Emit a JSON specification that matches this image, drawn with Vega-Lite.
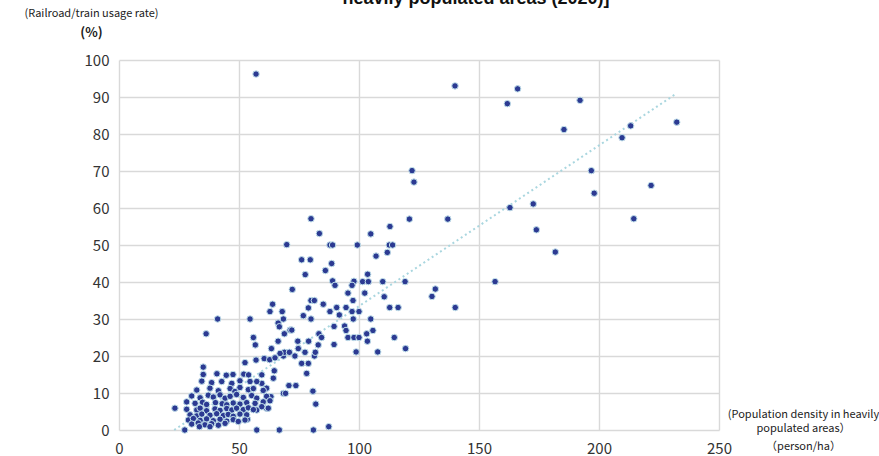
{
  "$schema": "https://vega.github.io/schema/vega-lite/v6.json",
  "width": 600,
  "height": 370,
  "autosize": {"type": "none"},
  "padding": {"left": 119, "top": 60, "right": 160, "bottom": 26},
  "background": "white",
  "config": {"view": {"stroke": null}, "font": "Noto Sans CJK JP"},
  "title": {
    "text": "heavily populated areas (2020)]",
    "anchor": "middle",
    "dx": 57,
    "dy": 5,
    "font": "Liberation Sans",
    "fontSize": 18,
    "fontWeight": "bold",
    "color": "#111111"
  },
  "datasets": {
    "trend": [{"density": 23, "usage": 0}, {"density": 232.4, "usage": 91}],
    "points": [
      {"density":57.1,"usage":96.2},{"density":140,"usage":93},{"density":166.1,"usage":92.2},{"density":161.8,"usage":88.2},{"density":192.1,"usage":89.1},{"density":185.4,"usage":81.2},{"density":232.4,"usage":83.2},{"density":213.2,"usage":82.2},{"density":209.6,"usage":79},{"density":196.8,"usage":70.1},{"density":198,"usage":64},{"density":221.7,"usage":66.1},{"density":162.9,"usage":60.1},{"density":172.6,"usage":61.1},{"density":173.9,"usage":54.1},{"density":214.5,"usage":57.1},{"density":181.8,"usage":48.1},{"density":156.7,"usage":40.1},
      {"density":122.1,"usage":70.1},{"density":122.9,"usage":67},{"density":121,"usage":57},{"density":137,"usage":57},{"density":112.9,"usage":55},{"density":104.9,"usage":53},{"density":87.9,"usage":50},{"density":89,"usage":50},{"density":99.3,"usage":50},{"density":112.6,"usage":50},{"density":114,"usage":50},{"density":107.1,"usage":47},{"density":111.8,"usage":48},{"density":88.6,"usage":45},{"density":89,"usage":40.3},{"density":90,"usage":39.1},{"density":97.9,"usage":40.2},{"density":97.1,"usage":39.1},{"density":101.5,"usage":40.1},{"density":103.9,"usage":40.1},{"density":103.6,"usage":42.1},{"density":109.9,"usage":40.1},{"density":119.2,"usage":40.1},{"density":95.4,"usage":37},{"density":102.4,"usage":37},{"density":110.5,"usage":36},{"density":131.8,"usage":38.1},{"density":130.4,"usage":36.1},{"density":97.5,"usage":35},{"density":90.7,"usage":33.1},{"density":94.6,"usage":33.1},{"density":87.9,"usage":32},{"density":91.8,"usage":31.1},{"density":97.1,"usage":32},{"density":100,"usage":32},{"density":97.6,"usage":30},{"density":112.8,"usage":33.1},{"density":116.3,"usage":33.1},{"density":140.1,"usage":33.1},{"density":104.9,"usage":30},{"density":89.6,"usage":28},{"density":94,"usage":28.1},{"density":94.6,"usage":26.9},{"density":105.8,"usage":26.9},{"density":103.2,"usage":26},{"density":95.4,"usage":25},{"density":97.9,"usage":25},{"density":100,"usage":25},{"density":103.5,"usage":24},{"density":114.7,"usage":25},{"density":89.6,"usage":23.1},{"density":119.4,"usage":22},{"density":98.8,"usage":21.1},{"density":107.8,"usage":21.1},
      {"density":80,"usage":57.1},{"density":83.5,"usage":53.1},{"density":69.9,"usage":50.1},{"density":76.1,"usage":46},{"density":79.7,"usage":46},{"density":77.6,"usage":42},{"density":86,"usage":43.1},{"density":72.2,"usage":38},{"density":80,"usage":35},{"density":81.4,"usage":35},{"density":64,"usage":34},{"density":85.1,"usage":34},{"density":78.9,"usage":33},{"density":62.9,"usage":32},{"density":68,"usage":32},{"density":76.8,"usage":30.9},{"density":68.5,"usage":30},{"density":80,"usage":30},{"density":66.3,"usage":28.9},{"density":66.8,"usage":27.9},{"density":71.3,"usage":27},{"density":72,"usage":27},{"density":68.9,"usage":26},{"density":74.5,"usage":24},{"density":79,"usage":24},{"density":83.3,"usage":26},{"density":84.4,"usage":25},{"density":83,"usage":23},{"density":56,"usage":25},{"density":56.8,"usage":23},{"density":54.6,"usage":30},{"density":63.5,"usage":22},{"density":66.3,"usage":24},{"density":68.5,"usage":20},{"density":68.9,"usage":21},{"density":71,"usage":21},{"density":73.3,"usage":20},{"density":77.5,"usage":21},{"density":81.4,"usage":20},{"density":81.8,"usage":21},{"density":60.5,"usage":19.3},{"density":62.8,"usage":19},{"density":65,"usage":19.5},{"density":74.7,"usage":22},{"density":41.1,"usage":30},{"density":36.3,"usage":26},{"density":76.1,"usage":18},{"density":78.9,"usage":18},
      {"density":57.1,"usage":18.9},{"density":52.5,"usage":18.2},{"density":35.1,"usage":17},{"density":64.7,"usage":16},{"density":64.3,"usage":14},{"density":70.8,"usage":12},{"density":73.7,"usage":12},{"density":68.5,"usage":9.9},{"density":69.4,"usage":9.9},{"density":63.3,"usage":9},{"density":59.5,"usage":12.6},{"density":61.5,"usage":11.3},{"density":78.2,"usage":15.3},{"density":67.1,"usage":20.7},{"density":53.5,"usage":2.9},{"density":61.5,"usage":5.9},{"density":57.4,"usage":5.4},{"density":80.8,"usage":10.5},{"density":82,"usage":7},
      {"density":35.1,"usage":15},{"density":40.8,"usage":15.2},{"density":44.7,"usage":14.8},{"density":47.5,"usage":15},{"density":52,"usage":15.1},{"density":54,"usage":14.9},{"density":59.5,"usage":14.9},
      {"density":34.5,"usage":13.2},{"density":38.6,"usage":12.8},{"density":42.8,"usage":13.1},{"density":47,"usage":12.6},{"density":50.4,"usage":13.3},{"density":54.6,"usage":13.1},{"density":57.4,"usage":13.1},
      {"density":32.4,"usage":10.8},{"density":37.9,"usage":11.3},{"density":41.4,"usage":10.6},{"density":46.3,"usage":11.2},{"density":48.3,"usage":10.4},{"density":50.4,"usage":11.5},{"density":53.9,"usage":10.9},{"density":56,"usage":11.2},{"density":60.1,"usage":10.7},
      {"density":30.3,"usage":9.2},{"density":33.8,"usage":8.7},{"density":37.2,"usage":9.4},{"density":39.3,"usage":8.9},{"density":42.1,"usage":9.5},{"density":44.2,"usage":8.6},{"density":46.3,"usage":9.1},{"density":49,"usage":9.6},{"density":51.8,"usage":8.8},{"density":55.3,"usage":9.3},{"density":57.4,"usage":8.6},{"density":61.5,"usage":9.1},
      {"density":28.2,"usage":7.6},{"density":31.7,"usage":7.2},{"density":34.8,"usage":7.5},{"density":36.5,"usage":6.9},{"density":40.2,"usage":7.4},{"density":43,"usage":7.1},{"density":44.9,"usage":6.8},{"density":47.6,"usage":7.3},{"density":50.4,"usage":7},{"density":53.2,"usage":7.4},{"density":56.7,"usage":7.2},{"density":60.1,"usage":7.6},{"density":62.9,"usage":7.9},
      {"density":23.3,"usage":5.9},{"density":28.2,"usage":5.6},{"density":32.4,"usage":5.4},{"density":33.8,"usage":5.9},{"density":36.5,"usage":5.2},{"density":40,"usage":5.7},{"density":42.1,"usage":5.3},{"density":44.9,"usage":5.8},{"density":47,"usage":5.4},{"density":49,"usage":5.9},{"density":51.8,"usage":5.5},{"density":53.9,"usage":6},{"density":56,"usage":5.5},{"density":59.5,"usage":6.3},{"density":62.2,"usage":5.9},
      {"density":29.6,"usage":4.1},{"density":32.4,"usage":3.8},{"density":34.5,"usage":4.3},{"density":37.9,"usage":4},{"density":40.7,"usage":4.4},{"density":43.5,"usage":3.9},{"density":45.5,"usage":4.2},{"density":47.6,"usage":3.7},{"density":50.4,"usage":4.3},{"density":53.2,"usage":4.1},
      {"density":28.9,"usage":2.7},{"density":31,"usage":3.1},{"density":33.8,"usage":2.6},{"density":36.5,"usage":3},{"density":39.3,"usage":2.5},{"density":42.1,"usage":2.9},{"density":44.9,"usage":2.4},{"density":47.6,"usage":2.8},{"density":49.7,"usage":2.3},{"density":52.5,"usage":2.7},
      {"density":30.3,"usage":1.6},{"density":33,"usage":1.9},{"density":35.8,"usage":1.4},{"density":38.6,"usage":1.7},{"density":41.4,"usage":1.3},{"density":44.2,"usage":1.8},
      {"density":33.5,"usage":0.9},{"density":37.9,"usage":0.9},
      {"density":27.4,"usage":0},{"density":57.4,"usage":0},{"density":66.8,"usage":0},{"density":81,"usage":0},{"density":87.4,"usage":0.9}
    ]
  },
  "resolve": {"axis": {"x": "independent", "y": "independent"}},
  "layer": [
    {
      "data": {"name": "trend"},
      "mark": {"type": "line", "color": "#a9d6df", "strokeWidth": 2, "strokeDash": [2, 3]},
      "encoding": {
        "x": {"field": "density", "type": "quantitative", "scale": {"domain": [0, 250], "nice": false},
          "axis": {"orient": "bottom", "labels": false, "ticks": false, "domain": false, "grid": false,
            "title": "（person/ha）", "titleFont": "Noto Sans CJK JP", "titleFontSize": 11, "titleFontWeight": "normal", "titleColor": "#222222",
            "titleAngle": 0, "titleAlign": "center", "titleBaseline": "alphabetic", "titleX": 684, "titleY": 19}},
        "y": {"field": "usage", "type": "quantitative", "scale": {"domain": [0, 100], "nice": false},
          "axis": {"orient": "left", "labels": false, "ticks": false, "domain": false, "grid": false,
            "title": "(%)", "titleFont": "Noto Sans CJK JP", "titleFontSize": 13, "titleFontWeight": "bold", "titleColor": "#222222",
            "titleAngle": 0, "titleAlign": "center", "titleBaseline": "alphabetic", "titleX": -28, "titleY": -24}}
      }
    },
    {
      "data": {"name": "points"},
      "mark": {"type": "point", "shape": "circle", "filled": true, "size": 42, "color": "#2c3a92", "stroke": "#c3e2ec", "strokeWidth": 1, "opacity": 1},
      "encoding": {
        "x": {"field": "density", "type": "quantitative", "scale": {"domain": [0, 250], "nice": false},
          "axis": {"orient": "bottom", "values": [0, 50, 100, 150, 200, 250], "ticks": false, "domain": false,
            "grid": true, "gridColor": "#d9d9d9", "gridWidth": 1.4,
            "labelFont": "Noto Sans CJK JP", "labelFontSize": 15, "labelColor": "#333333", "labelPadding": 11, "labelFlush": false,
            "title": ["(Population density in heavily", "populated areas）"], "titleFont": "Noto Sans CJK JP", "titleFontSize": 11,
            "titleFontWeight": "normal", "titleColor": "#222222", "titleLineHeight": 14,
            "titleAngle": 0, "titleAlign": "center", "titleBaseline": "alphabetic", "titleX": 684, "titleY": -13}},
        "y": {"field": "usage", "type": "quantitative", "scale": {"domain": [0, 100], "nice": false},
          "axis": {"orient": "left", "values": [0, 10, 20, 30, 40, 50, 60, 70, 80, 90, 100], "ticks": false, "domain": false,
            "grid": true, "gridColor": "#d9d9d9", "gridWidth": 1.4,
            "labelFont": "Noto Sans CJK JP", "labelFontSize": 15, "labelColor": "#333333", "labelPadding": 10, "labelFlush": false,
            "title": "(Railroad/train usage rate)", "titleFont": "Noto Sans CJK JP", "titleFontSize": 11, "titleFontWeight": "normal", "titleColor": "#222222",
            "titleAngle": 0, "titleAlign": "center", "titleBaseline": "alphabetic", "titleX": -28, "titleY": -44}}
      }
    }
  ]
}
